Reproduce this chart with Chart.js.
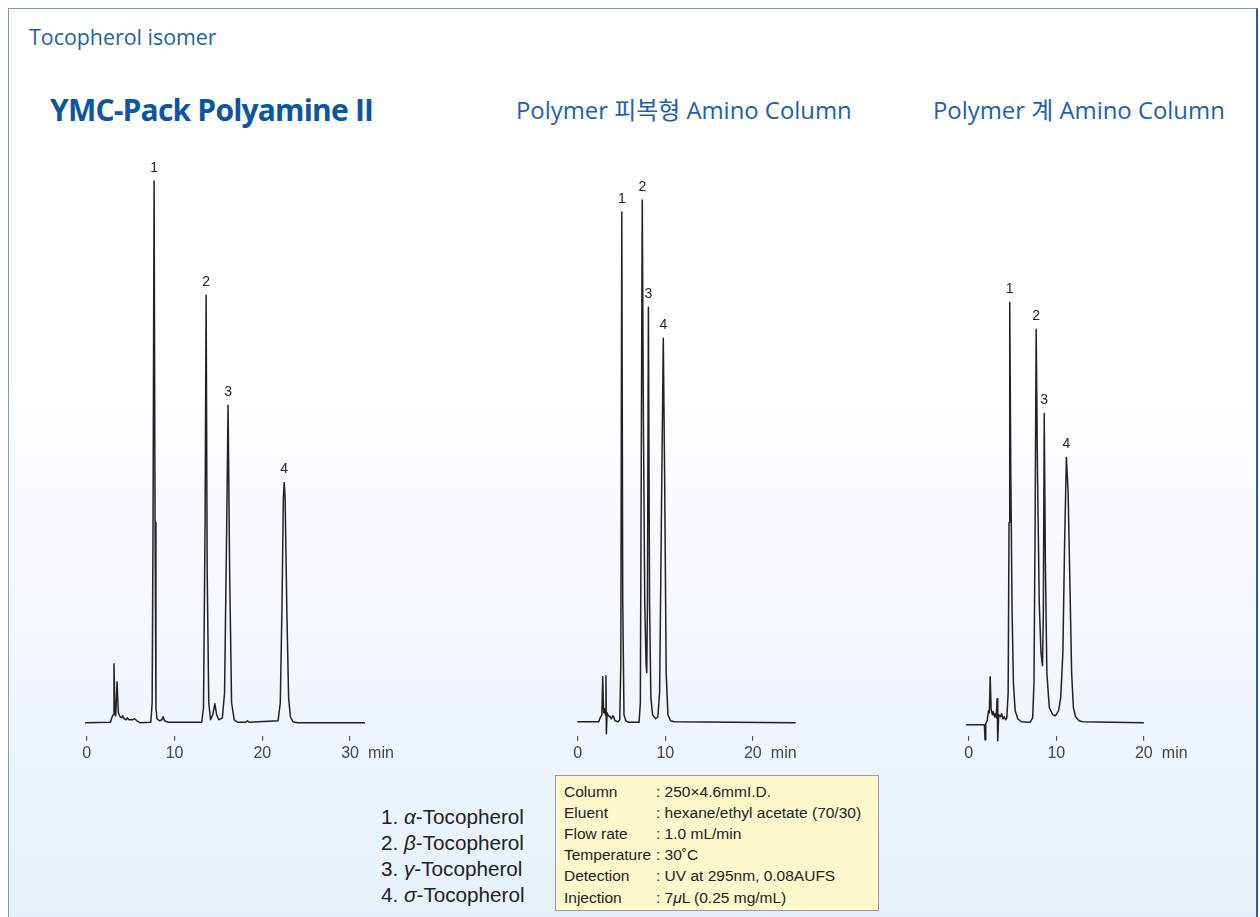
<!DOCTYPE html>
<html>
<head>
<meta charset="utf-8">
<script src="https://cdn.jsdelivr.net/npm/chart.js@4.4.0/dist/chart.umd.min.js"></script>
<style>
body{margin:0;width:1260px;height:917px;overflow:hidden;background:#fff;position:relative;font-family:"Liberation Sans",Arial,sans-serif}
.frame{position:absolute;left:8px;top:8px;width:1247px;height:930px;border:1.5px solid #6d9fd4;border-right:2px solid #2c5fa6;
  background:linear-gradient(to bottom,#ffffff 0%,#ffffff 38%,#e5f0fa 100%)}
.t{position:absolute;white-space:nowrap;line-height:1}
.head{font-family:"Open Sans","Noto Sans CJK KR",sans-serif;color:#1a62ad}
.box{position:absolute}
.legend{position:absolute;left:381px;top:804px;font-size:20.7px;line-height:26px;color:#222}
.info{position:absolute;left:555px;top:775px;width:324px;height:136px;background:#fdf8cc;border:1px solid #9a9a9a;box-sizing:border-box}
.info div{position:absolute;left:8px;font-size:15.5px;line-height:21.2px;color:#222;white-space:nowrap}
.info span{position:absolute;left:92px}
</style>
</head>
<body>
<div class="frame"></div>

<div class="t head" style="left:29px;top:26px;font-size:21.4px;">Tocopherol isomer</div>
<div class="t head" style="left:50px;top:95px;font-size:30px;font-weight:bold;color:#0b56a3;letter-spacing:-0.8px;">YMC-Pack Polyamine II</div>
<div class="t head" style="left:516px;top:98px;font-size:23.9px;">Polymer 피복형 Amino Column</div>
<div class="t head" style="left:933px;top:98px;font-size:23.9px;">Polymer 계 Amino Column</div>

<div class="box" style="left:78px;top:120px;width:334px;height:646px;"><canvas id="c1"></canvas></div>
<div class="box" style="left:569px;top:120px;width:272px;height:646px;"><canvas id="c2"></canvas></div>
<div class="box" style="left:960px;top:120px;width:237px;height:646px;"><canvas id="c3"></canvas></div>

<div class="legend">
  1. <i>α</i>-Tocopherol<br>
  2. <i>β</i>-Tocopherol<br>
  3. <i>γ</i>-Tocopherol<br>
  4. <i>σ</i>-Tocopherol
</div>

<div class="info">
  <div style="top:4.6px">Column<span>: 250×4.6mmI.D.</span></div>
  <div style="top:25.8px">Eluent<span>: hexane/ethyl acetate (70/30)</span></div>
  <div style="top:47px">Flow rate<span>: 1.0 mL/min</span></div>
  <div style="top:68.2px">Temperature<span>: 30˚C</span></div>
  <div style="top:89.4px">Detection<span>: UV at 295nm, 0.08AUFS</span></div>
  <div style="top:110.6px">Injection<span>: 7<i>μ</i>L (0.25 mg/mL)</span></div>
</div>

<script>
// peak numbers (same for all three columns)
const peakLabels = ['1', '2', '3', '4'];

// YMC-Pack Polyamine II  (time in min, signal)
const time1 = [-0.2, 2.7, 2.85, 3.0, 3.1, 3.2, 3.3, 3.45, 3.6, 3.8, 4.0, 4.1, 4.25, 4.5, 4.6, 4.8, 5.2, 5.45, 5.7, 6.1,
  7.3, 7.45, 7.55, 7.67, 7.78, 7.88, 8.0, 8.3, 8.55, 8.7, 8.85, 9.3,
  13.1, 13.3, 13.48, 13.6, 13.72, 13.9, 14.1, 14.35, 14.6, 14.8, 15.05,
  15.45, 15.7, 15.95, 16.1, 16.28, 16.5, 16.8, 17.2, 18.1, 18.3, 18.5,
  21.8, 22.05, 22.25, 22.4, 22.5, 22.6, 22.8, 23.0, 23.2, 23.5, 24.0, 31.7];
const signal1 = [0, 0.5, 5, 8, 59, 12, 7, 41, 10, 6, 5, 7, 4, 3, 5, 3, 3, 4, 2, 0,
  0.5, 20, 200, 541, 200, 15, 4, 2, 3, 6, 2, 0.5,
  0.5, 15, 200, 427, 150, 20, 3, 8, 19, 8, 3,
  5, 30, 200, 317, 150, 20, 3, 0.5, 0.5, 2, 0.5,
  2, 20, 120, 225, 240, 225, 110, 25, 6, 1, 0, 0];
const peakTime1 = [7.67, 13.6, 16.1, 22.5];
const ticks1 = [0, 10, 20, 30];

// Polymer 피복형 Amino Column
const time2 = [-0.05, 2.4, 2.55, 2.75, 2.85, 2.95, 3.05, 3.15, 3.22, 3.27, 3.35, 3.5, 3.7, 3.85, 4.0, 4.1, 4.25, 4.6,
  4.8, 4.92, 5.03, 5.14, 5.28, 5.5, 5.8, 7.0, 7.15, 7.25, 7.37, 7.5, 7.65, 7.8, 7.88, 7.96, 8.07, 8.2, 8.35,
  8.55, 8.9, 9.15, 9.35, 9.55, 9.77, 9.92, 10.1, 10.3, 10.6, 11.0, 24.9];
const signal2 = [1, 1, 5, 8, 46, 10, 14, 8, 47, -11, 10, 7, 6, 4, 7, 6, 2, 1,
  3, 60, 510, 120, 8, 2, 0.5, 0.5, 20, 250, 522, 300, 120, 60, 50, 120, 415, 120, 25,
  8, 4, 6, 30, 200, 384, 250, 50, 8, 2, 1, 0];
const peakTime2 = [5.03, 7.37, 8.07, 9.77];
const ticks2 = [0, 10, 20];

// Polymer 계 Amino Column
const time3 = [-0.3, 1.78, 1.86, 1.94, 2.1, 2.25, 2.35, 2.45, 2.55, 2.7, 2.8, 2.95, 3.05, 3.15, 3.24, 3.31, 3.42,
  3.6, 3.75, 3.9, 4.05, 4.2, 4.35, 4.5, 4.6, 4.68, 4.8, 4.95, 5.1, 5.3, 5.6, 6.0,
  7.0, 7.3, 7.45, 7.58, 7.7, 7.85, 8.05, 8.25, 8.42, 8.52, 8.62, 8.75, 8.92, 9.2, 9.6, 9.9,
  10.25, 10.5, 10.75, 10.95, 11.15, 11.35, 11.55, 11.75, 11.95, 12.2, 12.6, 13.0, 20.0];
const signal3 = [-2, -2, -17, -1, 2, 12, 10, 46, 14, 8, 11, 6, 9, 5, 24, -18, 8,
  6, 9, 4, 6, 3, 5, 30, 200, 420, 250, 110, 40, 12, 4, 1,
  0.5, 5, 40, 200, 393, 250, 120, 70, 57, 110, 309, 160, 50, 15, 8, 7,
  12, 25, 70, 180, 265, 230, 140, 50, 15, 6, 2, 1, 0];
const peakTime3 = [4.68, 7.7, 8.62, 11.15];
const ticks3 = [0, 10, 20];

const tickFont = {family: '"Liberation Sans", Arial, sans-serif', size: 16};

// peak numbers above each peak + "min" after the last tick label
const extras = {
  id: 'extras',
  afterDatasetsDraw(chart, args, opts) {
    const {ctx, scales: {x, y}} = chart;
    const times = chart.data.datasets[0].data;
    ctx.save();
    ctx.fillStyle = '#222';
    ctx.font = '14px "Liberation Sans", Arial, sans-serif';
    ctx.textAlign = 'center';
    ctx.textBaseline = 'alphabetic';
    opts.peaks.forEach((t, i) => {
      const pt = times.find(p => p.x === t);
      ctx.fillText(peakLabels[i], x.getPixelForValue(t), y.getPixelForValue(pt.y) - 9);
    });
    const last = opts.ticks[opts.ticks.length - 1];
    ctx.fillStyle = '#444';
    ctx.font = '16px "Liberation Sans", Arial, sans-serif';
    ctx.textAlign = 'left';
    ctx.textBaseline = 'middle';
    ctx.fillText('min', x.getPixelForValue(last) + 18, x.top + 5 + 3 + 16 * 1.2 / 2);
    ctx.restore();
  }
};

function makeChart(id, times, signal, peaks, ticks, xMax) {
  return new Chart(document.getElementById(id), {
    type: 'line',
    data: {
      datasets: [{
        data: times.map((t, i) => ({x: t, y: signal[i]})),
        borderColor: '#222',
        borderWidth: 1.5,
        borderJoinStyle: 'round',
        pointRadius: 0,
        tension: 0,
        fill: false,
        clip: false
      }]
    },
    options: {
      responsive: true,
      maintainAspectRatio: false,
      animation: false,
      layout: {padding: {left: 0, right: 40, top: 0, bottom: 0}},
      plugins: {legend: {display: false}, tooltip: {enabled: false}, extras: {peaks: peaks, ticks: ticks}},
      scales: {
        x: {
          type: 'linear',
          min: -1,
          max: xMax,
          afterBuildTicks: s => { s.ticks = ticks.map(v => ({value: v})); },
          grid: {drawOnChartArea: false, drawTicks: true, tickLength: 5, color: '#555', lineWidth: 1.2},
          border: {display: false},
          ticks: {font: tickFont, color: '#444', padding: 3, maxRotation: 0, autoSkip: false}
        },
        y: {display: false, min: -13, max: 602}
      }
    },
    plugins: [extras]
  });
}

makeChart('c1', time1, signal1, peakTime1, ticks1, 32.5);
makeChart('c2', time2, signal2, peakTime2, ticks2, 25.5);
makeChart('c3', time3, signal3, peakTime3, ticks3, 21.5);
</script>
</body>
</html>
